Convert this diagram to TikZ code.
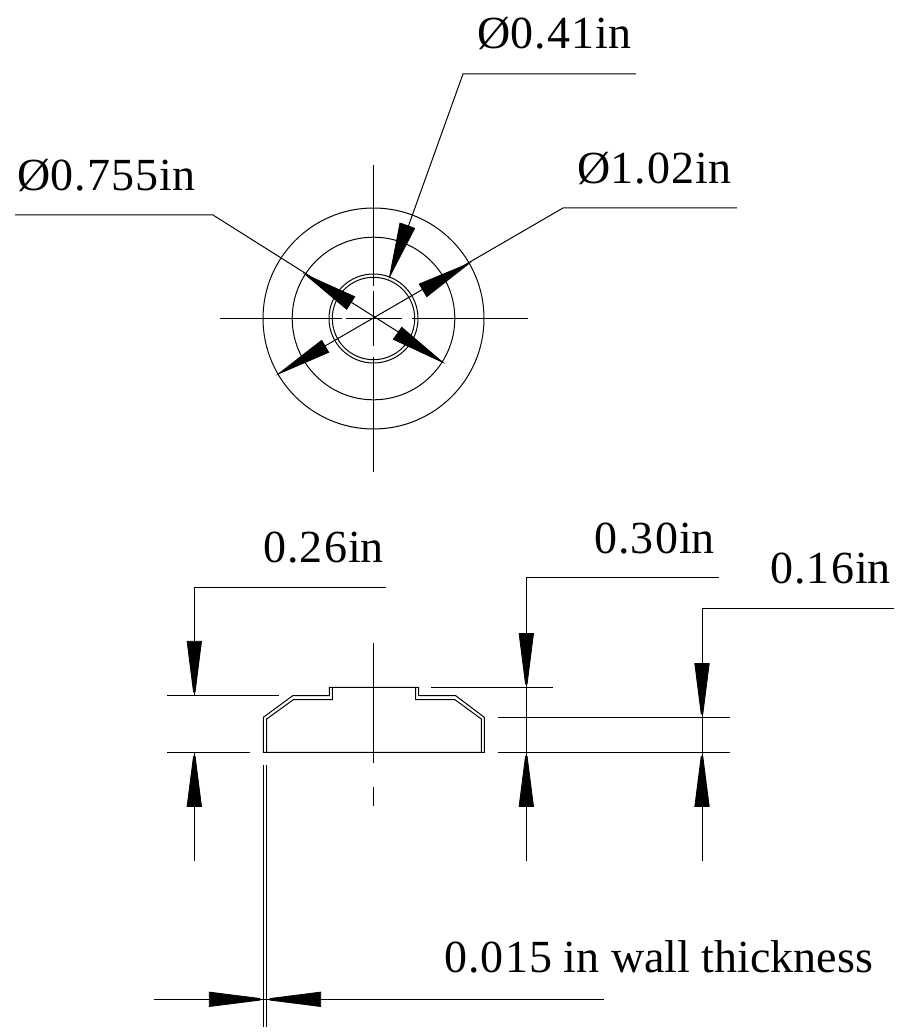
\documentclass[tikz,border=0pt]{standalone}
\usepackage{fontspec}
\setmainfont{Liberation Serif}
\newfontfamily\dgfont[LetterSpace=2.6]{Liberation Serif}
\tikzset{
  ln/.style={line width=1pt,black},
  tip/.style={fill=black,draw=black,line width=0.8pt,line join=miter},
  lab/.style={anchor=base west,inner sep=0pt,outer sep=0pt,font=\fontsize{46}{46}\selectfont}
}
\begin{document}
\begin{tikzpicture}[x=1pt,y=-1pt]
\useasboundingbox (0,0) rectangle (922,1032);
% top view circles
\coordinate (c) at (373.5,318.5);
\draw[ln] (c) circle[radius=110.5];
\draw[ln] (c) circle[radius=81.3];
\draw[ln] (c) circle[radius=44.5];
\draw[ln] (c) circle[radius=41.2];
% centre lines
\draw[ln] (220,318.3) -- (341.7,318.3) (346,318.3) -- (401.7,318.3) (411.7,318.3) -- (527.7,318.3);
\draw[ln] (373.3,165) -- (373.3,286) (373.3,291) -- (373.3,345.7) (373.3,357.3) -- (373.3,471.7);
% leaders top
\draw[ln] (636,74) -- (463,74) -- (398,255);
\draw[ln] (15,215) -- (213,215) -- (400,333);
\draw[ln] (737,208) -- (563,208) -- (325,346);
% arrowheads top
\filldraw[tip] (389.5,277) -- (400,223) -- (414.7,228.3) -- cycle;
\filldraw[tip] (305,274.3) -- (354.7,296.7) -- (346.7,309.3) -- cycle;
\filldraw[tip] (442.7,362.3) -- (401.7,327.3) -- (393.3,339.3) -- cycle;
\filldraw[tip] (469.3,263.3) -- (419.3,284) -- (426.7,296.7) -- cycle;
\filldraw[tip] (278.3,374) -- (321.7,340.3) -- (328.7,352.3) -- cycle;
% section profile
\draw[ln] (263.3,752.3) -- (263.3,717.3) -- (292.7,695.7) -- (329.3,695.7) -- (329.3,687.3) -- (418.7,687.3) -- (418.7,695.7) -- (455.7,695.7) -- (484.3,717.3) -- (484.3,752.3) -- cycle;
\draw[ln] (266.7,752.3) -- (266.7,719) -- (293.3,699.7) -- (332.3,699.7) -- (332.3,687.3);
\draw[ln] (415.7,687.3) -- (415.7,699.7) -- (455,699.7) -- (481.3,719) -- (481.3,752.3);
\draw[ln] (373.3,643.3) -- (373.3,763.3) (373.3,787.3) -- (373.3,805.7);
% extension lines
\draw[ln] (167,695.7) -- (278.7,695.7) (167,752.3) -- (250,752.3);
\draw[ln] (431,687.3) -- (553,687.3);
\draw[ln] (498,717.3) -- (730,717.3) (498,752.3) -- (730,752.3);
% dimension lines
\draw[ln] (386,587) -- (194.3,587) -- (194.3,695.7) (194.3,752.3) -- (194.3,860.7);
\draw[ln] (719,577) -- (526.3,577) -- (526.3,752.3) (526.3,752.3) -- (526.3,860.7);
\draw[ln] (894,608) -- (702,608) -- (702,752.3) (702,752.3) -- (702,860.7);
\filldraw[tip] (193.5,692) -- (195.1,692) -- (201.5,641.3) -- (187.1,641.3) -- cycle;
\filldraw[tip] (193.5,756.3) -- (195.1,756.3) -- (201.5,806.4) -- (187.1,806.4) -- cycle;
\filldraw[tip] (525.5,684) -- (527.1,684) -- (533.5,633.6) -- (519.1,633.6) -- cycle;
\filldraw[tip] (525.5,756.3) -- (527.1,756.3) -- (533.5,806.4) -- (519.1,806.4) -- cycle;
\filldraw[tip] (701.2,714) -- (702.8,714) -- (709.2,663.6) -- (694.8,663.6) -- cycle;
\filldraw[tip] (701.2,756.3) -- (702.8,756.3) -- (709.2,806.4) -- (694.8,806.4) -- cycle;
% wall thickness
\draw[ln] (263.3,765) -- (263.3,1027) (266.7,765) -- (266.7,1027);
\draw[ln] (154,999.3) -- (604,999.3);
\filldraw[tip] (260,998.5) -- (260,1000.1) -- (209.3,1006.5) -- (209.3,992.1) -- cycle;
\filldraw[tip] (270,998.5) -- (270,1000.1) -- (320.7,1006.5) -- (320.7,992.1) -- cycle;
% labels
\node[lab] (t1) at (477,49) {Ø{\dgfont 0.41\kern1pt}in};
\node[lab] (t2) at (17,191) {Ø{\dgfont 0.755\kern1pt}in};
\node[lab] (t3) at (577,184) {Ø{\dgfont 1.02\kern1pt}in};
\node[lab] (t4) at (263,562) {{\dgfont 0.26\kern1pt}in};
\node[lab] (t5) at (594,553) {{\dgfont 0.30\kern1pt}in};
\node[lab] (t6) at (770,583) {{\dgfont 0.16\kern1pt}in};
\node[lab] (t7) at (444,972) {{\dgfont 0.015} in wall thickness};
\end{tikzpicture}
\end{document}
